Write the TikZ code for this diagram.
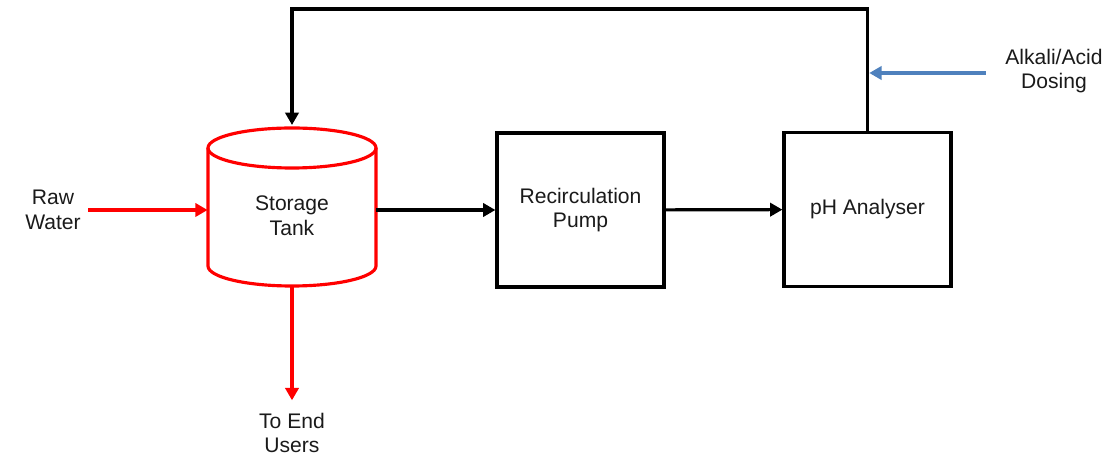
\documentclass[tikz,border=0pt]{standalone}
\usepackage{fontspec}
\setmainfont{Liberation Sans}
\usepackage{tikz}
\usetikzlibrary{arrows.meta}
\usepackage{xcolor}
\definecolor{doseblue}{HTML}{4F81BD}
\definecolor{ink}{HTML}{1A1A1A}

\tikzset{
  unit/.style={draw,line width=1.8pt,minimum width=3.34cm,minimum height=3.08cm,align=center},
  lbl/.style={align=center,inner sep=2pt},
  flow/.style={->,line width=1.8pt},
  water/.style={->,line width=1.8pt,red},
}

\begin{document}
\begin{tikzpicture}[>={Triangle[length=7pt,width=7.5pt]},font=\fontsize{12}{14}\selectfont,line cap=butt,text=ink]
\useasboundingbox (0,0) rectangle (22.1,9.12);
% storage tank
\draw[red,line width=1.8pt] (4.16,6.16) -- (4.16,3.8)
  arc[start angle=180,end angle=360,x radius=1.68,y radius=0.4] -- (7.52,6.16);
\draw[red,line width=1.8pt] (5.84,6.16) ellipse[x radius=1.68,y radius=0.4];
\node[lbl,minimum width=3.36cm,minimum height=2.8cm] (tank) at (5.84,4.8) {Storage\\Tank};
\coordinate (tanktop) at (5.84,6.62);
% units
\node[unit] (pump) at (11.61,4.92) {Recirculation\\Pump};
\node[unit] (analyser) at (17.35,4.93) {pH Analyser};
% labels
\node[lbl] (raw) at (1.06,4.92) {Raw\\Water};
\node[lbl] (users) at (5.84,0.46) {To End\\Users};
\node[lbl] (dosing) at (21.08,7.7) {Alkali/Acid\\Dosing};
\coordinate (loop) at (5.84,8.94);
% flows
\draw[water,shorten <=2pt] (raw) -- (raw -| tank.west);
\draw[water,shorten >=5pt] (tank) -- (users);
\draw[flow] (tank.east |- pump) -- (pump);
\draw[flow] (pump) -- (analyser);
\draw[flow] (analyser) |- (loop) -- (tanktop);
\draw[->,line width=1.8pt,doseblue,shorten <=9pt,shorten >=1pt] (dosing.west |- 0,7.66) -- (analyser.north |- 0,7.66);
\end{tikzpicture}
\end{document}
